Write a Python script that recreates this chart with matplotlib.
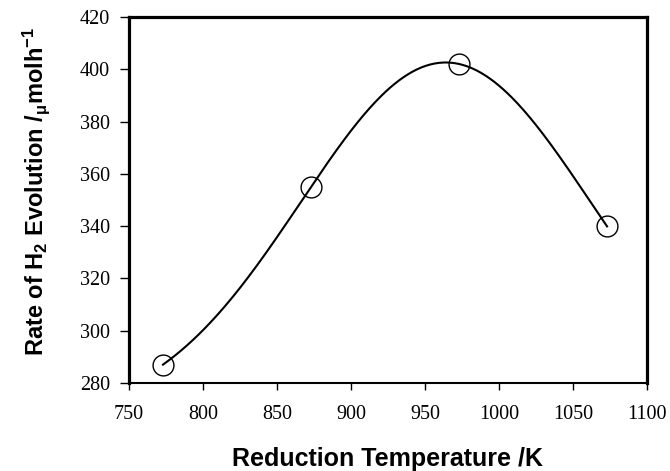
import numpy as np
import matplotlib
matplotlib.use("Agg")
import matplotlib.pyplot as plt

# data
temp = [773, 873, 973, 1073]
rate = [287, 355, 402, 340]

plt.rcParams['mathtext.fontset'] = 'custom'
plt.rcParams['mathtext.rm'] = 'Liberation Sans:bold'
plt.rcParams['mathtext.it'] = 'Liberation Sans:bold'
plt.rcParams['mathtext.bf'] = 'Liberation Sans:bold'

fig = plt.figure(figsize=(6.7, 4.71), dpi=100)
ax = fig.add_axes([0.1925, 0.1868, 0.7732, 0.7771])

# smooth peak curve fitted to the points: y = a + b*exp(-(x-c)^2 / (2 s^2))
x = np.array(temp, dtype=float)
y = np.array(rate, dtype=float)
best = None
for c in np.arange(900, 1050, 0.5):
    for s in np.arange(50, 250, 1.0):
        g = np.exp(-(x - c) ** 2 / (2 * s * s))
        A = np.column_stack([np.ones_like(g), g])
        coef, res, rk, sv = np.linalg.lstsq(A, y, rcond=None)
        err = np.sum((A @ coef - y) ** 2)
        if best is None or err < best[0]:
            best = (err, c, s, coef)
err, c, s, coef = best
xs = np.linspace(x[0], x[-1], 300)
ys = coef[0] + coef[1] * np.exp(-(xs - c) ** 2 / (2 * s * s))

ax.plot(xs, ys, color='black', lw=1.5, zorder=2)
ax.plot(temp, rate, linestyle='none', marker='o', markersize=15,
        markerfacecolor='none', markeredgecolor='black', markeredgewidth=1.0, zorder=3)

ax.set_xlim(750, 1100)
ax.set_ylim(280, 420)
ax.set_xticks(np.arange(750, 1101, 50))
ax.set_yticks(np.arange(280, 421, 20))
for lbl in ax.get_xticklabels() + ax.get_yticklabels():
    lbl.set_fontfamily('Liberation Serif')
    lbl.set_fontsize(14.5)
ax.tick_params(axis='x', direction='out', length=5, width=1, pad=10.5)
ax.tick_params(axis='y', direction='out', length=6.5, width=1, pad=7)

for side in ['left', 'top', 'right']:
    ax.spines[side].set_linewidth(2.3)
ax.spines['bottom'].set_linewidth(1.5)

ax.set_xlabel('Reduction Temperature /K', fontfamily='Liberation Sans',
              fontweight='bold', fontsize=18, labelpad=17)
ax.set_ylabel(r'Rate of H$_{2}$ Evolution /$_{\mu}$molh$^{-1}$', fontfamily='Liberation Sans',
              fontweight='bold', fontsize=17)
ax.yaxis.set_label_coords(-0.148, 0.522)

fig.savefig('out.png', dpi=100)
